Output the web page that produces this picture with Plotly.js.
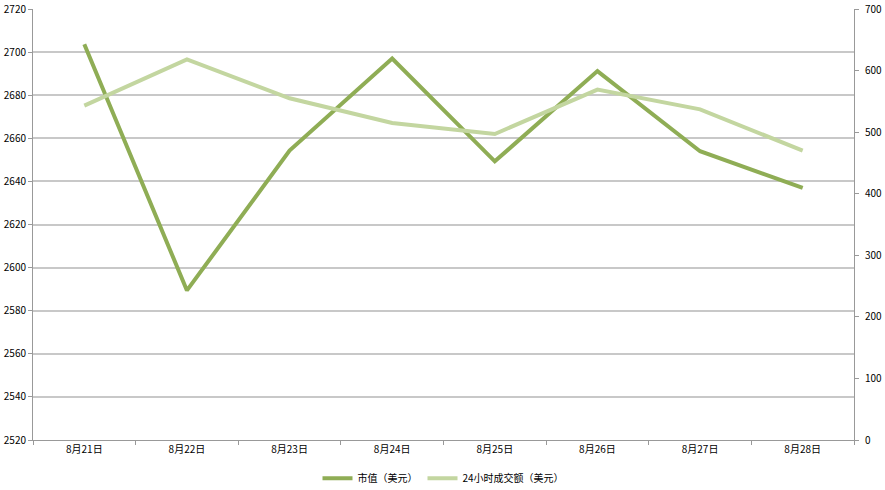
<!DOCTYPE html>
<html>
<head>
<meta charset="utf-8">
<script src="https://cdn.plot.ly/plotly-3.0.1.min.js"></script>
<style>html,body{margin:0;padding:0;background:#fff;}#chart{width:885px;height:490px;}</style>
</head>
<body>
<div id="chart"></div>
<script>
var categories = ["8月21日","8月22日","8月23日","8月24日","8月25日","8月26日","8月27日","8月28日"];
var marketCap = [2703.6, 2589.4, 2654.3, 2697, 2649.3, 2691.2, 2654, 2637];
var volume24h = [543, 618, 555, 515, 497, 569, 537, 470];
var seriesNames = ["市值（美元）", "24小时成交额（美元）"];

var font = "'Noto Sans CJK SC', 'DejaVu Sans', sans-serif";
var traces = [
  {x: categories, y: marketCap, name: seriesNames[0], type: "scatter", mode: "lines",
   line: {color: "#8fad55", width: 4}, yaxis: "y"},
  {x: categories, y: volume24h, name: seriesNames[1], type: "scatter", mode: "lines",
   line: {color: "#c3d6a0", width: 4}, yaxis: "y2"}
];
var layout = {
  width: 885, height: 490,
  margin: {l: 33, r: 31, t: 9, b: 50, autoexpand: false},
  paper_bgcolor: "#fff", plot_bgcolor: "#fff",
  font: {family: font, size: 10, color: "#000"},
  showlegend: true,
  legend: {orientation: "h", x: 0.5, xanchor: "center", y: -0.055, yanchor: "top",
           font: {family: font, size: 10, color: "#000"}},
  xaxis: {type: "category", showgrid: false, showline: true, linecolor: "#999", linewidth: 1,
          ticks: "outside", tickson: "boundaries", ticklen: 4, tickcolor: "#999",
          tickfont: {size: 10}, range: [-0.5, 7.5], zeroline: false, automargin: false},
  yaxis: {range: [2520, 2720], dtick: 20, showgrid: true, gridcolor: "#c8c8c8", gridwidth: 1.5,
          showline: true, linecolor: "#999", ticks: "outside", ticklen: 4, tickcolor: "#999",
          zeroline: false, tickfont: {size: 10}, automargin: false},
  yaxis2: {range: [0, 700], dtick: 100, overlaying: "y", side: "right", showgrid: false,
           showline: true, linecolor: "#999", ticks: "outside", ticklen: 4, tickcolor: "#999",
           zeroline: false, tickfont: {size: 10}, automargin: false, ticklabelstandoff: 4}
};
Plotly.newPlot("chart", traces, layout, {displayModeBar: false});
</script>
</body>
</html>
